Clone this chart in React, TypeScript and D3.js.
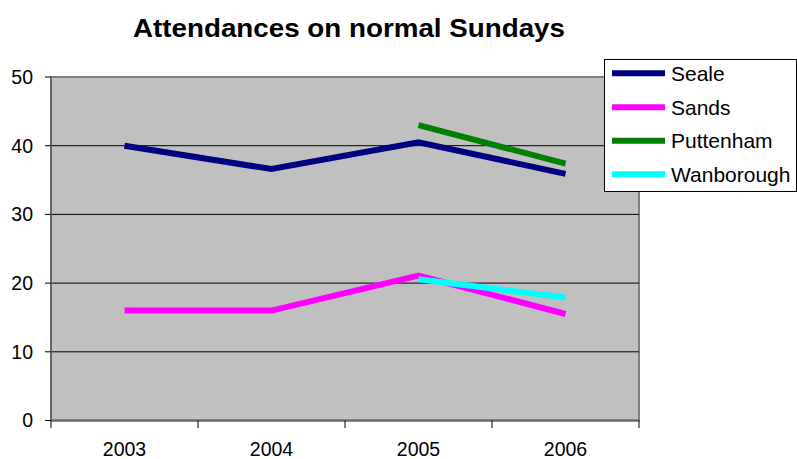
import React from "react";
import * as d3 from "d3";

const years = ["2003", "2004", "2005", "2006"];
const seale = [40.0, 36.6, 40.5, 35.9];
const sands = [16.0, 16.0, 21.1, 15.5];
const puttenham = [null, null, 43.0, 37.4];
const wanborough = [null, null, 20.55, 17.9];
const yTicks = [0, 10, 20, 30, 40, 50];

const seriesNames = ["Seale", "Sands", "Puttenham", "Wanborough"];
const seriesColors = ["#000080", "#FF00FF", "#008000", "#00FFFF"];
const seriesValues = [seale, sands, puttenham, wanborough];

export default function App() {
  const W = 797, H = 459;
  const left = 51, right = 639, top = 77, bottom = 420.5;
  const x = d3.scaleBand<string>().domain(years).range([left, right]);
  const y = d3.scaleLinear().domain([0, 50]).range([bottom, top]);
  const line = d3
    .line<number | null>()
    .defined((d) => d != null)
    .x((_, i) => (x(years[i]) as number) + x.bandwidth() / 2)
    .y((d) => y(d as number));

  const font = "Arial, 'Liberation Sans', sans-serif";
  return (
    <svg width={W} height={H} style={{ position: "absolute", left: 0, top: 0 }} fontFamily={font}>
      <rect x={0} y={0} width={W} height={H} fill="#fff" />
      <text x={133} y={37} fontWeight="bold" fontSize={26.5} textLength={432} lengthAdjust="spacingAndGlyphs">
        Attendances on normal Sundays
      </text>
      <rect x={left} y={top} width={right - left} height={bottom - top} fill="#C0C0C0" stroke="#808080" strokeWidth={2} />
      {yTicks.slice(1, -1).map((t) => (
        <line key={t} x1={left} x2={right} y1={y(t)} y2={y(t)} stroke="#000" strokeWidth={1} />
      ))}
      {/* y axis */}
      <line x1={left} x2={left} y1={top} y2={bottom} stroke="#666" strokeWidth={2} />
      {yTicks.map((t) => (
        <g key={t}>
          <line x1={left - 6} x2={left} y1={y(t)} y2={y(t)} stroke="#000" />
          <text x={33} y={y(t)} dy="0.35em" textAnchor="end" fontSize={19.5}>
            {t}
          </text>
        </g>
      ))}
      {/* x axis */}
      <line x1={left} x2={right} y1={bottom} y2={bottom} stroke="#666" strokeWidth={2} />
      {[...years.map((yr) => x(yr) as number), right].map((p, i) => (
        <line key={i} x1={p} x2={p} y1={bottom} y2={bottom + 7.5} stroke="#000" />
      ))}
      {years.map((yr) => (
        <text key={yr} x={(x(yr) as number) + x.bandwidth() / 2} y={456} textAnchor="middle" fontSize={19.5}>
          {yr}
        </text>
      ))}
      {seriesValues.map((vals, i) => (
        <path key={i} d={line(vals) || ""} fill="none" stroke={seriesColors[i]} strokeWidth={6} strokeLinejoin="miter" />
      ))}
      {/* legend */}
      <rect x={604.5} y={59.5} width={192} height={132} fill="#fff" stroke="#000" strokeWidth={1} />
      {seriesNames.map((n, i) => {
        const ry = [73.3, 107.3, 140.7, 174.3][i];
        return (
          <g key={n}>
            <line x1={612} x2={665} y1={ry} y2={ry} stroke={seriesColors[i]} strokeWidth={6} />
            <text x={671} y={ry} dy="0.35em" fontSize={21}>
              {n}
            </text>
          </g>
        );
      })}
    </svg>
  );
}
